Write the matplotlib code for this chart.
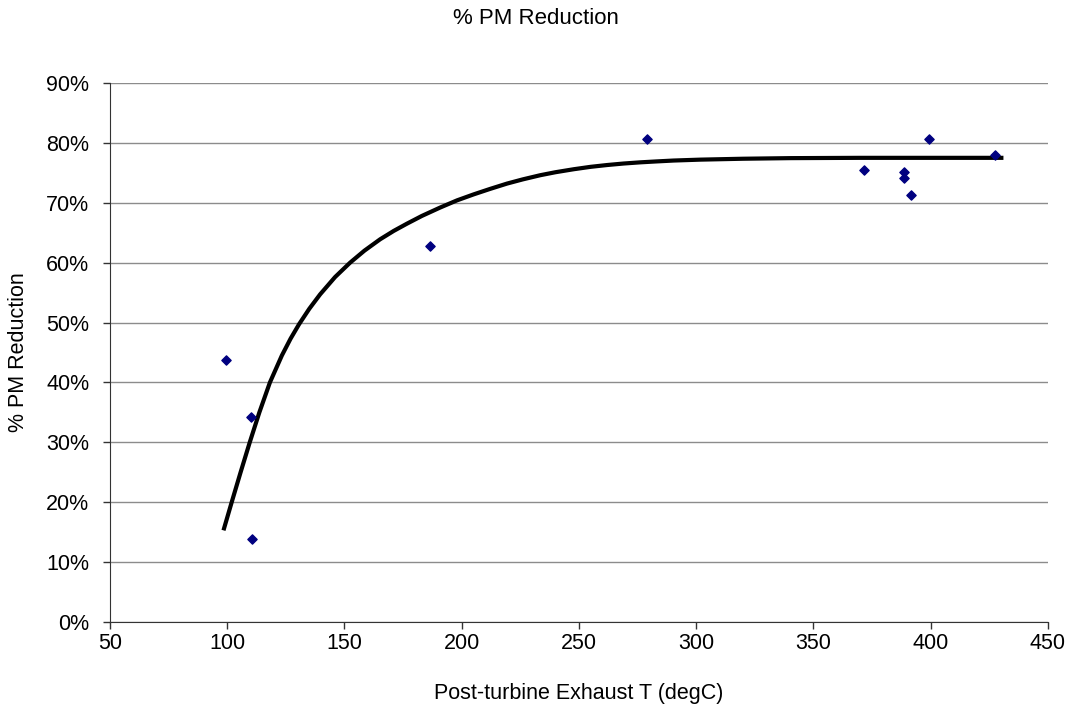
import numpy as np
import matplotlib.pyplot as plt
from matplotlib.ticker import FuncFormatter

# measured points (temperature degC, % reduction)
temp = [99.5, 110.2, 110.6, 186.4, 278.8, 371.4, 388.5, 388.5, 391.5, 399.1, 427.3]
pm_red = [43.8, 34.3, 13.9, 62.8, 80.7, 75.5, 75.2, 74.1, 71.3, 80.6, 78.0]

# fitted curve
fit_t = [98.4, 101.9, 105.7, 109.6, 113.7, 118.2, 123.3, 127.0, 130.6, 135.0,
         139.6, 146.0, 152.4, 158.5, 165.2, 171.0, 176.6, 183.0, 190.8, 198.0,
         205.1, 212.0, 219.3, 226.0, 233.5, 240.0, 247.8, 255.0, 262.0, 269.0,
         276.2, 283.0, 290.4, 301.8, 320.0, 340.0, 370.0, 431.0]
fit_y = [15.3, 20.0, 25.0, 30.0, 35.0, 40.0, 44.5, 47.3, 49.7, 52.3,
         54.7, 57.6, 60.0, 62.0, 63.9, 65.3, 66.5, 67.8, 69.2, 70.4,
         71.4, 72.3, 73.2, 73.9, 74.6, 75.1, 75.6, 76.0, 76.3, 76.55,
         76.75, 76.9, 77.05, 77.2, 77.35, 77.45, 77.5, 77.5]

plt.rcParams['font.family'] = ['Liberation Sans', 'DejaVu Sans']

fig = plt.figure(figsize=(10.72, 7.11), dpi=100)
ax = fig.add_axes([0.1026, 0.1252, 0.875, 0.7581])

ax.plot(fit_t, fit_y, color='black', lw=3, solid_capstyle='butt',
        solid_joinstyle='round', zorder=3)
ax.scatter(temp, pm_red, marker='D', s=22, color='#000080', zorder=4)

ax.set_xlim(50, 450)
ax.set_ylim(0, 90)
ax.set_xticks(np.arange(50, 451, 50))
ax.set_yticks(np.arange(0, 91, 10))
ax.yaxis.set_major_formatter(FuncFormatter(lambda v, p: '%d%%' % v))
ax.grid(axis='y', color='#8c8c8c', lw=1)
ax.set_axisbelow(True)

for s in ['top', 'right']:
    ax.spines[s].set_visible(False)
for s in ['left', 'bottom']:
    ax.spines[s].set_color('#333333')
ax.tick_params(direction='out', length=5, width=1, colors='#333333',
               labelsize=15.5, labelcolor='black')
ax.tick_params(axis='y', pad=10)
ax.tick_params(axis='x', pad=3)

fig.text(0.5, 0.974, '% PM Reduction', ha='center', va='center', fontsize=16)
fig.text(0.54, 0.025, 'Post-turbine Exhaust T (degC)', ha='center', va='center', fontsize=15.5)
fig.text(0.017, 0.505, '% PM Reduction', ha='center', va='center', rotation=90, fontsize=15.5)

fig.savefig('out.png', dpi=100)
